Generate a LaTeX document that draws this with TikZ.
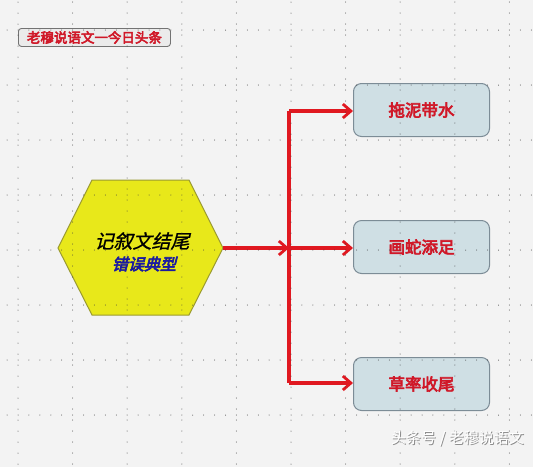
\documentclass[tikz,border=0pt]{standalone}
\usepackage{fontspec}
\newfontfamily\cjk{Noto Sans CJK SC}
\newfontfamily\cjkb{Noto Sans CJK SC}[FakeBold=4]
\newfontfamily\cjki{Noto Sans CJK SC}[FakeSlant=0.25,FakeBold=1]
\newfontfamily\cjkbi{Noto Sans CJK SC}[FakeSlant=0.25,FakeBold=4]
\usetikzlibrary{arrows.meta}
\definecolor{bg}{HTML}{F3F3F3}
\definecolor{redline}{HTML}{E01820}
\definecolor{redtext}{HTML}{D01828}
\definecolor{boxfill}{HTML}{CFDFE4}
\definecolor{boxdraw}{HTML}{7C8C96}
\definecolor{hexfill}{HTML}{E8E81A}
\definecolor{hexdraw}{HTML}{9A9A30}
\definecolor{hextext}{HTML}{1A1AA0}
\tikzset{
  leafbox/.style={draw=boxdraw, line width=1pt, fill=boxfill, rounded corners=8pt,
    minimum width=136pt, minimum height=53pt, inner sep=0pt, anchor=north west,
    font=\cjkb\fontsize{16.5}{19}\selectfont, text=redtext},
  conn/.style={draw=redline, line width=3.2pt},
  tip/.style={-{Straight Barb[length=8pt,width=14pt,line width=2.8pt]}},
  griddot/.style={fill=black!75},
  wmark/.style={anchor=east, inner sep=0pt, font=\cjk\fontsize{15}{18}\selectfont},
}
\begin{document}
\begin{tikzpicture}[x=1pt,y=-1pt]
\fill[bg] (0,0) rectangle (533,467);
\useasboundingbox (0,0) rectangle (533,467);
% title
\node[draw=black!55, line width=0.9pt, rounded corners=3pt, fill=black!8,
  minimum width=152pt, minimum height=18pt, inner sep=0pt, anchor=north west,
  font=\cjkb\fontsize{13.5}{15}\selectfont, text=redtext] (title) at (18,28) {老穆说语文一今日头条};
% hexagon
\fill[hexfill, draw=hexdraw, line width=1pt] (58,248) -- (92,180) -- (189,180) -- (223,248) -- (189,315) -- (92,315) -- cycle;
\coordinate (hexR) at (223,248);
\node[inner sep=0pt, font=\cjki\fontsize{19}{22}\selectfont] (hexa) at (142,241) {记叙文结尾};
\node[inner sep=0pt, font=\cjkbi\fontsize{16}{19}\selectfont, text=hextext] (hexb) at (144,264) {错误典型};
% leaf boxes
\node[leafbox] (b1) at (353,83) {拖泥带水};
\node[leafbox] (b2) at (353,220) {画蛇添足};
\node[leafbox] (b3) at (353,357) {草率收尾};
% connectors
\coordinate (t1) at (289,111);
\coordinate (t2) at (289,248);
\coordinate (t3) at (289,383);
\draw[conn] (t1) -- (t3);
\draw[conn, tip] (hexR) -- (t2);
\draw[conn, tip] (t1) -- (t1 -| b1.west);
\draw[conn, tip] (t2) -- (t2 -| b2.west);
\draw[conn, tip] (t3) -- (t3 -| b3.west);
% dotted grid
\foreach \i in {0,...,9} {
  \foreach \k in {0,...,42} {
    \fill[griddot] ({18+54.6*\i},{2+11*\k}) circle (0.5pt);
  }
}
\foreach \j in {0,...,7} {
  \foreach \k in {0,...,48} {
    \fill[griddot] ({7.1+10.92*\k},{30+55*\j}) circle (0.5pt);
  }
}
% watermark
\node[wmark, text=black!45] (wmshadow) at (525,439) {头条号 / 老穆说语文};
\node[wmark, text=white] (wm) at (524,438) {头条号 / 老穆说语文};
\end{tikzpicture}
\end{document}
